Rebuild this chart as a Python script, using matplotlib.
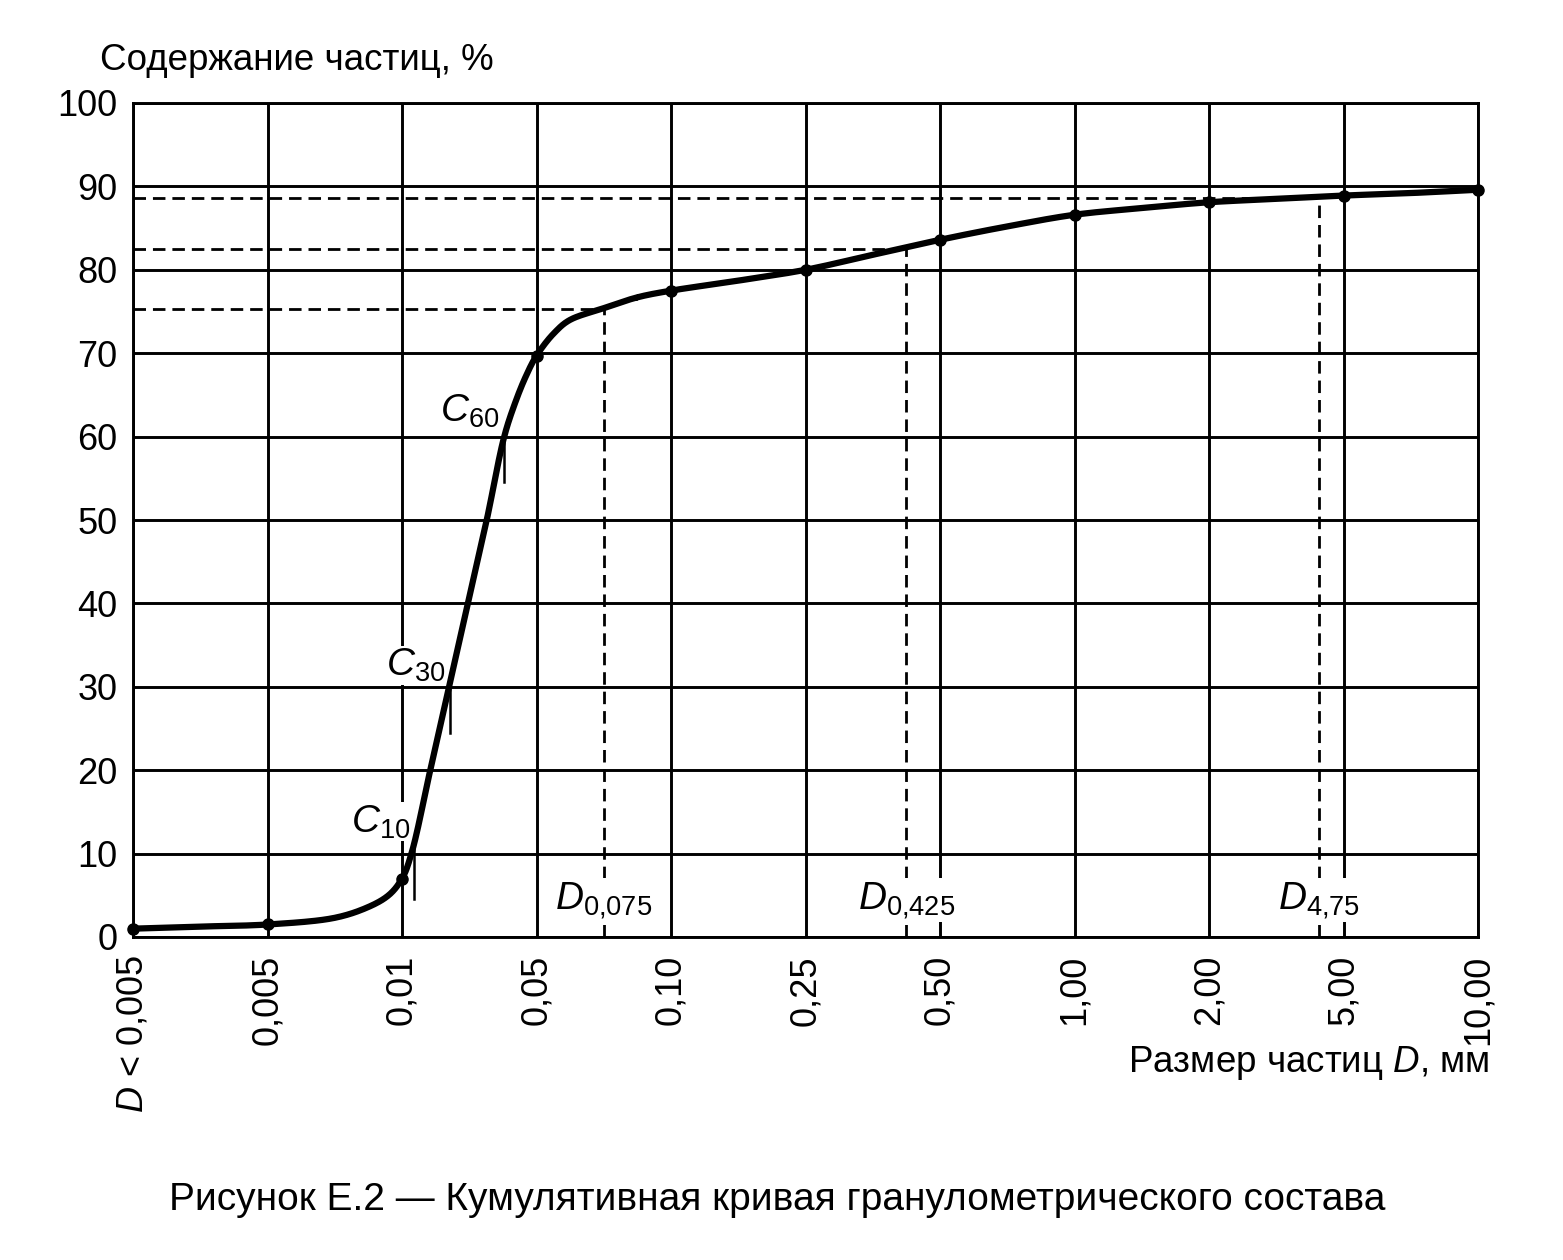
import matplotlib
matplotlib.use('Agg')
import matplotlib.pyplot as plt
import numpy as np

plt.rcParams['font.family'] = ['Liberation Sans', 'DejaVu Sans']
plt.rcParams['mathtext.fontset'] = 'custom'
plt.rcParams['mathtext.rm'] = 'Liberation Sans'
plt.rcParams['mathtext.it'] = 'Liberation Sans:italic'

# x categories (sieve sizes), placed evenly
size_labels = ['$D$ < 0,005', '0,005', '0,01', '0,05', '0,10', '0,25',
               '0,50', '1,00', '2,00', '5,00', '10,00']
# measured points (markers) at each size
point_pos = [0, 1, 2, 3, 4, 5, 6, 7, 8, 9, 10]
point_pct = [1.0, 1.5, 7.0, 69.7, 77.5, 80.0, 83.6, 86.6, 88.1, 88.9, 89.6]

# traced curve
curve_pos = [0, 0.5, 1, 1.5, 1.75, 1.9, 2.0, 2.07, 2.21, 2.35, 2.49, 2.63, 2.76,
             2.84, 2.92, 3.0, 3.13, 3.25, 3.5, 3.75, 4, 4.5, 5, 5.5, 6, 6.5, 7,
             7.5, 8, 8.5, 9, 9.5, 10]
curve_pct = [1.0, 1.25, 1.5, 2.3, 3.6, 5.0, 7.0, 10, 20, 30, 40, 50, 60,
             64.0, 67.2, 69.7, 72.4, 74.0, 75.4, 76.7, 77.5, 78.7, 80.0, 81.8,
             83.6, 85.2, 86.6, 87.4, 88.1, 88.5, 88.9, 89.2, 89.6]

# characteristic sizes D (dashed guides)
d_names = ['0{,}075', '0{,}425', '4{,}75']
d_pos = [3.50, 5.75, 8.82]
d_pct = [75.3, 82.5, 88.6]

# C marks
c_names = ['10', '30', '60']
c_pos = [2.09, 2.36, 2.76]
c_pct = [10, 30, 60]
c_label_xy = [(1.84, 13.8), (2.10, 32.6), (2.50, 63.0)]


def smooth(xs, ys, n=20):
  # centripetal catmull-rom through the traced points (for drawing only)
  p = np.column_stack([xs, ys]).astype(float)
  p = np.vstack([2*p[0]-p[1], p, 2*p[-1]-p[-2]])
  sc = np.array([1.0, 0.1])
  out = []
  for i in range(1, len(p) - 2):
    p0, p1, p2, p3 = p[i-1], p[i], p[i+1], p[i+2]
    t0 = 0.0
    t1 = t0 + np.linalg.norm((p1-p0)*sc) ** 0.5
    t2 = t1 + np.linalg.norm((p2-p1)*sc) ** 0.5
    t3 = t2 + np.linalg.norm((p3-p2)*sc) ** 0.5
    t = np.linspace(t1, t2, n)[:, None]
    a1 = (t1-t)/(t1-t0)*p0 + (t-t0)/(t1-t0)*p1
    a2 = (t2-t)/(t2-t1)*p1 + (t-t1)/(t2-t1)*p2
    a3 = (t3-t)/(t3-t2)*p2 + (t-t2)/(t3-t2)*p3
    b1 = (t2-t)/(t2-t0)*a1 + (t-t0)/(t2-t0)*a2
    b2 = (t3-t)/(t3-t1)*a2 + (t-t1)/(t3-t1)*a3
    out.append((t2-t)/(t2-t1)*b1 + (t-t1)/(t2-t1)*b2)
  out = np.vstack(out)
  return out[:, 0], out[:, 1]


fig = plt.figure(figsize=(15.63, 12.6), dpi=100)
ax = fig.add_axes([133/1563, 1-937/1260, (1478-133)/1563, (937-103)/1260])

ax.set_xlim(0, 10)
ax.set_ylim(0, 100)
ax.set_xticks(range(len(size_labels)))
ax.set_xticklabels(size_labels, rotation=90, va='top', ha='center')
ax.set_yticks(range(0, 101, 10))
ax.tick_params(length=0, labelsize=26, colors='black')
ax.tick_params(axis='x', pad=13)
ax.tick_params(axis='y', pad=11)
ax.grid(True, color='black', lw=2.1)
ax.set_axisbelow(True)
for sp in ax.spines.values():
  sp.set_linewidth(2.1)

# dashed guides
for name, x, y in zip(d_names, d_pos, d_pct):
  ax.plot([0, x], [y, y], color='black', lw=2.0, ls=(0, (4.5, 2.5)))
  ax.plot([x, x], [0, y], color='black', lw=2.0, ls=(0, (4.5, 2.5)))
  ax.text(x, 4.4, f'$D_{{{name}}}$', fontsize=28, ha='center', va='center',
          bbox=dict(facecolor='white', edgecolor='none', pad=1))

sx, sy = smooth(curve_pos, curve_pct)
ax.plot(sx, sy, color='black', lw=4.5, solid_joinstyle='round',
        solid_capstyle='round', clip_on=False, zorder=4)
ax.plot(point_pos, point_pct, 'o', color='black', ms=8, clip_on=False, zorder=5)

# C ticks and labels
for name, x, y, (lx, ly) in zip(c_names, c_pos, c_pct, c_label_xy):
  ax.plot([x, x], [y + 0.5, y - 5.5], color='black', lw=1.8, zorder=4)
  ax.text(lx, ly, f'$C_{{{name}}}$', fontsize=28, ha='center', va='center',
          bbox=dict(facecolor='white', edgecolor='none', pad=0.5), zorder=3)

fig.text(100/1563, 1-60/1260, 'Содержание частиц, %', fontsize=26.5,
         ha='left', va='center')
fig.text(1490/1563, 1-1063/1260, 'Размер частиц $D$, мм', fontsize=26.5,
         ha='right', va='center')
fig.text(777/1563, 1-1200/1260,
         'Рисунок Е.2 — Кумулятивная кривая гранулометрического состава',
         fontsize=28, ha='center', va='center')

fig.savefig('out.png', dpi=100)
